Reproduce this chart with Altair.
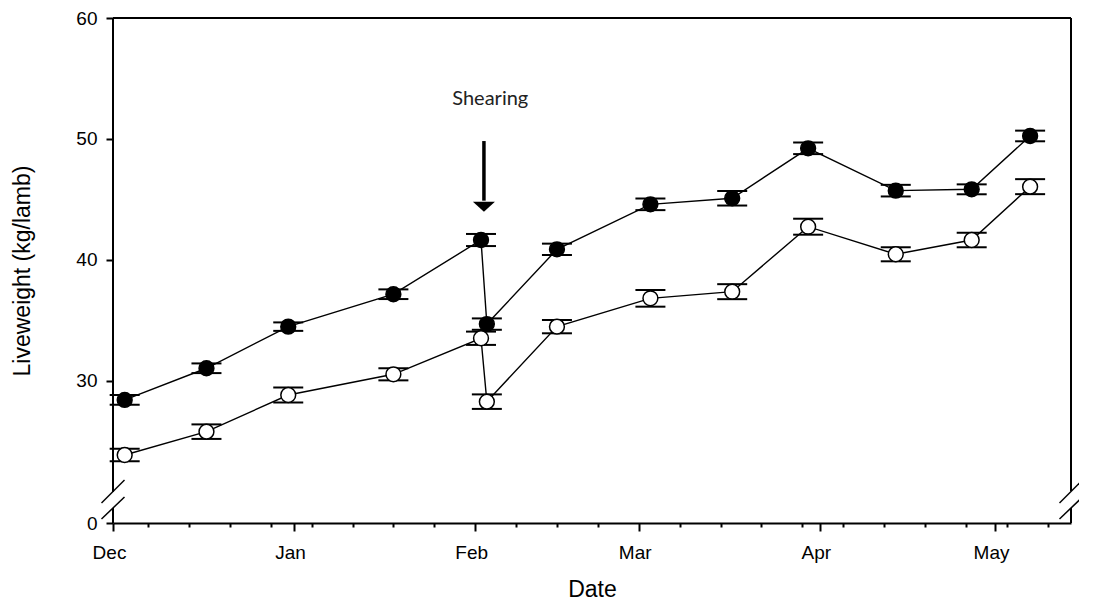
import altair as alt
import pandas as pd
from datetime import datetime, timezone, timedelta

# ---------------- data ----------------
dates = ["2014-12-03", "2014-12-17", "2014-12-31", "2015-01-18", "2015-02-02",
         "2015-02-03", "2015-02-15", "2015-03-03", "2015-03-17", "2015-03-30",
         "2015-04-14", "2015-04-27", "2015-05-07"]
filled_mean = [28.43, 31.05, 34.49, 37.17, 41.65, 34.70, 40.88, 44.60, 45.10,
               49.23, 45.73, 45.84, 50.25]
filled_se = [0.40, 0.40, 0.35, 0.40, 0.50, 0.47, 0.47, 0.48, 0.60, 0.48, 0.48,
             0.41, 0.44]
open_mean = [23.88, 25.81, 28.84, 30.55, 33.53, 28.29, 34.49, 36.83, 37.38,
             42.75, 40.47, 41.65, 46.06]
open_se = [0.52, 0.60, 0.62, 0.50, 0.55, 0.60, 0.55, 0.69, 0.62, 0.66, 0.58,
           0.60, 0.62]

y_tick_values = [30, 40, 50, 60]
annotation_text = "Shearing"
annotation_date = "2015-02-03T14:00:00Z"
annotation_y = 53.3
arrow_date = "2015-02-02T12:00:00Z"
arrow_top, arrow_shaft_end, arrow_head_y = 49.83, 44.9, 44.40

# ---------------- tables ----------------
rows = []
for d, m, s in zip(dates, filled_mean, filled_se):
    rows.append({"date": d, "group": "Filled", "mean": m, "lo": m - s, "hi": m + s})
for d, m, s in zip(dates, open_mean, open_se):
    rows.append({"date": d, "group": "Open", "mean": m, "lo": m - s, "hi": m + s})
df = pd.DataFrame(rows)

text_df = pd.DataFrame({"date": [annotation_date], "mean": [annotation_y],
                        "label": [annotation_text]})
arrow_df = pd.DataFrame({"date": [arrow_date], "mean": [arrow_top],
                         "end": [arrow_shaft_end]})
head_df = pd.DataFrame({"date": [arrow_date], "mean": [arrow_head_y]})
one = pd.DataFrame({"a": [0]})


def ms(y, m, d):
    return int(datetime(y, m, d, tzinfo=timezone.utc).timestamp() * 1000)


month_ticks = [ms(2014, 12, 1), ms(2015, 1, 1), ms(2015, 2, 1), ms(2015, 3, 1),
               ms(2015, 4, 1), ms(2015, 5, 1)]
week_ticks = []
t = datetime(2014, 12, 7, tzinfo=timezone.utc)
while t < datetime(2015, 5, 14, tzinfo=timezone.utc):
    week_ticks.append(int(t.timestamp() * 1000))
    t += timedelta(days=7)
x_tick_values = sorted(set(month_ticks + week_ticks))

Y_BREAK = 18.26  # value at the bottom of the broken axis, labelled "0"

W, H = 958, 505
FONT = "Liberation Sans"

x_scale = alt.Scale(type="utc",
                    domain=[alt.DateTime(year=2014, month=12, date=1, utc=True),
                            alt.DateTime(year=2015, month=5, date=14, utc=True)],
                    nice=False)
y_scale = alt.Scale(domain=[Y_BREAK, 60], nice=False, zero=False)

x_axis = alt.Axis(
    title="Date", values=x_tick_values,
    labelExpr="utcdate(datum.value) == 1 ? utcFormat(datum.value, '%b') : ''",
    tickSize={"condition": {"test": "utcdate(datum.value) == 1", "value": 8}, "value": 4},
    tickWidth=2, tickColor="black", domainWidth=2, domainColor="black",
    labelFont=FONT, labelFontSize=19, labelColor="black", labelPadding=12,
    labelOffset=-4, labelOverlap=False, labelFlush=False, grid=False,
    titleFont=FONT, titleFontSize=23, titleFontWeight="normal", titleColor="black",
    titleX=W / 2, titleY=66, titleAlign="center", titleBaseline="middle",
)
y_axis = alt.Axis(
    title="Liveweight (kg/lamb)", values=[Y_BREAK] + y_tick_values,
    labelExpr="datum.value < 25 ? '0' : datum.label",
    tickSize=7, tickWidth=2, tickColor="black", domain=False,
    labelFont=FONT, labelFontSize=19, labelColor="black", labelPadding=9,
    labelFlush=False, grid=False,
    titleFont=FONT, titleFontSize=23, titleFontWeight="normal", titleColor="black",
    titleX=-91, titleY=H / 2, titleAlign="center", titleBaseline="middle",
)


def X():
    return alt.X("date:T", scale=x_scale, axis=x_axis)


def Y(field="mean"):
    return alt.Y(f"{field}:Q", scale=y_scale, axis=y_axis)


base = alt.Chart(df)

line = base.mark_line(color="black", strokeWidth=1.4).encode(
    x=X(), y=Y("mean"), detail="group:N", order="date:T")
stems = base.mark_rule(color="black", strokeWidth=1.4).encode(
    x=X(), y=Y("lo"), y2="hi:Q")
cap_lo = base.mark_tick(orient="horizontal", size=30, thickness=2, color="black",
                        opacity=1).encode(x=X(), y=Y("lo"))
cap_hi = base.mark_tick(orient="horizontal", size=30, thickness=2, color="black",
                        opacity=1).encode(x=X(), y=Y("hi"))
points = base.mark_circle(size=220, stroke="black", strokeWidth=1.5, opacity=1).encode(
    x=X(), y=Y("mean"),
    fill=alt.Fill("group:N", scale=alt.Scale(domain=["Filled", "Open"],
                                             range=["black", "white"]), legend=None))

label = alt.Chart(text_df).mark_text(font="Lato", fontSize=20, color="#222222").encode(
    x=X(), y=Y("mean"), text="label:N")
shaft = alt.Chart(arrow_df).mark_rule(color="black", strokeWidth=3.5).encode(
    x=X(), y=Y("mean"), y2="end:Q")
head = alt.Chart(head_df).mark_point(
    shape="M-1,-0.45L1,-0.45L0,0.45Z", size=484, filled=True, color="black",
    opacity=1).encode(x=X(), y=Y("mean"))


def seg(x1, y1, x2, y2, w=2.0):
    return alt.Chart(one).mark_rule(color="black", strokeWidth=w).encode(
        x=alt.value(x1), y=alt.value(y1), x2=alt.value(x2), y2=alt.value(y2))


# frame (top, right) and broken left axis line, with break marks
frame = [
    seg(0, 0, W, 0),
    seg(W, 0, W, 473), seg(W, 490, W, H),
    seg(0, 0, 0, 474), seg(0, 490, 0, H),
    seg(-11.5, 485, 11.5, 462, 1.5), seg(-11.5, 501, 11.5, 479, 1.5),
    seg(W - 11.5, 485, W + 11.5, 462, 1.5), seg(W - 11.5, 501, W + 11.5, 479, 1.5),
]

chart = alt.layer(line, stems, cap_lo, cap_hi, points, label, shaft, head, *frame).properties(
    width=W, height=H,
    padding={"left": 105, "top": 10, "right": 8, "bottom": 78},
    autosize=alt.AutoSizeParams(type="none"),
).configure_view(stroke=None)

chart.save("out.html", embed_options={"renderer": "svg", "actions": False})
